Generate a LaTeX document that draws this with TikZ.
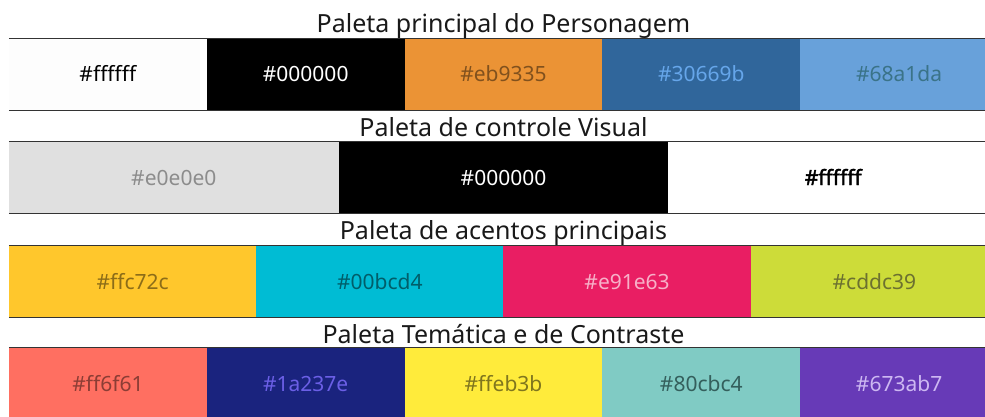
\documentclass[tikz,border=0pt]{standalone}
\usepackage{fontspec}
\setmainfont{Noto Sans}
\newfontfamily\negrito[FakeBold=2]{Noto Sans}
\definecolor{branco}{HTML}{FDFDFD}
\definecolor{laranja}{HTML}{EB9335}
\definecolor{azulescuro}{HTML}{30669B}
\definecolor{azulclaro}{HTML}{68A1DA}
\definecolor{cinza}{HTML}{E0E0E0}
\definecolor{amarelo}{HTML}{FFC72C}
\definecolor{ciano}{HTML}{00BCD4}
\definecolor{rosa}{HTML}{E91E63}
\definecolor{lima}{HTML}{CDDC39}
\definecolor{coral}{HTML}{FF6F61}
\definecolor{indigo}{HTML}{1A237E}
\definecolor{amareloclaro}{HTML}{FFEB3B}
\definecolor{verdeagua}{HTML}{80CBC4}
\definecolor{roxo}{HTML}{673AB7}
\definecolor{corborda}{HTML}{333333}
\definecolor{txtazul}{HTML}{66A6EA}
\definecolor{txtteal}{HTML}{3A7388}
\definecolor{txtindigo}{HTML}{6B5FE6}
\definecolor{txtroxo}{HTML}{CDB8F2}
\begin{document}
\begin{tikzpicture}[x=1pt, y=-1pt,
	cell/.style={inner sep=0pt, minimum height=71pt, text height=15pt, text depth=0pt,
		font=\fontsize{21}{25}\selectfont},
	titulo/.style={anchor=base, text=black!90, font=\fontsize{25}{30}\selectfont},
	linhaborda/.style={corborda, line width=1.2pt}]
			\useasboundingbox (0,0) rectangle (985,417);
			\clip (0,0) rectangle (985,417);
			% paleta principal
			\node[titulo] (t1) at (503.5,33) {Paleta principal do Personagem};
			\node[cell, fill=branco, minimum width=197.8pt, text=black] (a1) at (107.9,74.5) {\#ffffff};
			\node[cell, fill=black, minimum width=197.8pt, text=white] (a2) at (305.7,74.5) {\#000000};
			\node[cell, fill=laranja, minimum width=197.8pt, text=laranja!55!black] (a3) at (503.5,74.5) {\#eb9335};
			\node[cell, fill=azulescuro, minimum width=197.8pt, text=txtazul] (a4) at (701.3,74.5) {\#30669b};
			\node[cell, fill=azulclaro, minimum width=197.8pt, text=txtteal] (a5) at (899.1,74.5) {\#68a1da};
			\draw[linhaborda] (a1.north west) -- (a5.north east);
			\draw[linhaborda] (a1.south west) -- (a5.south east);
			% controle visual
			\node[titulo] (t2) at (503.5,136) {Paleta de controle Visual};
			\node[cell, fill=cinza, minimum width=329.7pt, text=black!45] (b1) at (173.8,177.5) {\#e0e0e0};
			\node[cell, fill=black, minimum width=329.7pt, text=white] (b2) at (503.5,177.5) {\#000000};
			\node[cell, fill=white, minimum width=329.7pt, text=black] (b3) at (833.2,177.5) {\negrito\#ffffff};
			\draw[linhaborda] (b1.north west) -- (b3.north east);
			\draw[linhaborda] (b1.south west) -- (b3.south east);
			% acentos
			\node[titulo] (t3) at (503.5,239) {Paleta de acentos principais};
			\node[cell, fill=amarelo, minimum width=247.25pt, text=amarelo!55!black] (c1) at (132.6,281.5) {\#ffc72c};
			\node[cell, fill=ciano, minimum width=247.25pt, text=ciano!50!black] (c2) at (379.9,281.5) {\#00bcd4};
			\node[cell, fill=rosa, minimum width=247.25pt, text=rosa!35!white] (c3) at (627.1,281.5) {\#e91e63};
			\node[cell, fill=lima, minimum width=247.25pt, text=lima!50!black!80!gray] (c4) at (874.4,281.5) {\#cddc39};
			\draw[linhaborda] (c1.north west) -- (c4.north east);
			\draw[linhaborda] (c1.south west) -- (c4.south east);
			% tematica
			\node[titulo] (t4) at (503.5,343) {Paleta Temática e de Contraste};
			\node[cell, fill=coral, minimum width=197.8pt, text=coral!55!black] (d1) at (107.9,383.5) {\#ff6f61};
			\node[cell, fill=indigo, minimum width=197.8pt, text=txtindigo] (d2) at (305.7,383.5) {\#1a237e};
			\node[cell, fill=amareloclaro, minimum width=197.8pt, text=amareloclaro!50!black] (d3) at (503.5,383.5) {\#ffeb3b};
			\node[cell, fill=verdeagua, minimum width=197.8pt, text=verdeagua!45!black!90!teal] (d4) at (701.3,383.5) {\#80cbc4};
			\node[cell, fill=roxo, minimum width=197.8pt, text=txtroxo] (d5) at (899.1,383.5) {\#673ab7};
			\draw[linhaborda] (d1.north west) -- (d5.north east);
		\end{tikzpicture}
\end{document}
